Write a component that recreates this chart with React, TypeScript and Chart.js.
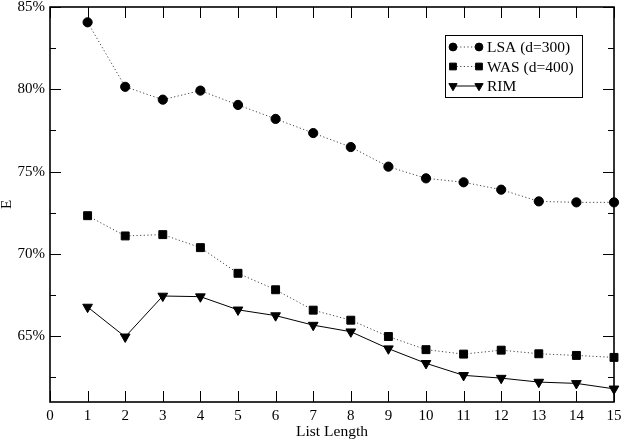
import React, { useEffect, useRef } from 'react';
import { Chart, registerables } from 'chart.js';
import { drawPoint } from 'chart.js/helpers';

Chart.register(...registerables);

const listLengths = [1, 2, 3, 4, 5, 6, 7, 8, 9, 10, 11, 12, 13, 14, 15];
const lsaValues = [84.07, 80.15, 79.37, 79.92, 79.05, 78.2, 77.34, 76.49, 75.3, 74.59, 74.35, 73.9, 73.19, 73.13, 73.13];
const wasValues = [72.32, 71.09, 71.17, 70.38, 68.82, 67.82, 66.58, 65.97, 64.98, 64.18, 63.91, 64.15, 63.93, 63.83, 63.71];
const rimValues = [66.77, 64.96, 67.44, 67.4, 66.6, 66.25, 65.67, 65.27, 64.24, 63.35, 62.62, 62.45, 62.21, 62.13, 61.8];
const xTicks = [0, 1, 2, 3, 4, 5, 6, 7, 8, 9, 10, 11, 12, 13, 14, 15];
const yTicks = [65, 70, 75, 80, 85];
const yMinorTicks = [62.5, 67.5, 72.5, 77.5, 82.5];

const FONT = '"Liberation Serif", "Times New Roman", serif';

// inward ticks + frame, like the grace plot
const frameTicks = {
  id: 'frameTicks',
  beforeDatasetsDraw(chart: any) {
    const { ctx, chartArea, scales } = chart;
    const { left, right, top, bottom } = chartArea;
    ctx.save();
    ctx.strokeStyle = '#000';
    ctx.lineWidth = 1;
    ctx.beginPath();
    xTicks.forEach((v) => {
      const px = Math.round(scales.x.getPixelForValue(v)) + 0.5;
      ctx.moveTo(px, bottom);
      ctx.lineTo(px, bottom - 11);
      ctx.moveTo(px, top);
      ctx.lineTo(px, top + 11);
    });
    yTicks.forEach((v) => {
      const py = Math.round(scales.y.getPixelForValue(v)) + 0.5;
      ctx.moveTo(left, py);
      ctx.lineTo(left + 11, py);
      ctx.moveTo(right, py);
      ctx.lineTo(right - 11, py);
    });
    yMinorTicks.forEach((v) => {
      const py = Math.round(scales.y.getPixelForValue(v)) + 0.5;
      ctx.moveTo(left, py);
      ctx.lineTo(left + 6, py);
      ctx.moveTo(right, py);
      ctx.lineTo(right - 6, py);
    });
    ctx.stroke();
    ctx.lineWidth = 1.6;
    ctx.strokeRect(left, top, right - left, bottom - top);
    ctx.restore();
  },
};

// legend box: marker - line - marker, then label
const boxLegend = {
  id: 'boxLegend',
  afterDraw(chart: any) {
    const { ctx, chartArea } = chart;
    const bx = chartArea.right - 169;
    const by = chartArea.top + 28;
    const bw = 137;
    const bh = 62;
    ctx.save();
    ctx.fillStyle = '#fff';
    ctx.fillRect(bx, by, bw, bh);
    ctx.strokeStyle = '#000';
    ctx.lineWidth = 1;
    ctx.strokeRect(bx + 0.5, by + 0.5, bw, bh);
    chart.data.datasets.forEach((ds: any, i: number) => {
      const y = by + 12 + i * 19.5;
      const x1 = bx + 8;
      const x2 = bx + 34;
      ctx.strokeStyle = ds.borderColor;
      ctx.lineWidth = ds.borderWidth;
      ctx.setLineDash(ds.borderDash || []);
      ctx.beginPath();
      ctx.moveTo(x1, y);
      ctx.lineTo(x2, y);
      ctx.stroke();
      ctx.setLineDash([]);
      ctx.fillStyle = ds.pointBackgroundColor;
      ctx.strokeStyle = ds.pointBorderColor;
      const opts = { pointStyle: ds.pointStyle, radius: ds.pointRadius * 0.85, rotation: ds.pointRotation || 0, borderWidth: 1 };
      drawPoint(ctx, opts, x1, y);
      drawPoint(ctx, opts, x2, y);
      ctx.fillStyle = '#000';
      ctx.font = `15.5px ${FONT}`;
      ctx.textBaseline = 'middle';
      ctx.textAlign = 'left';
      ctx.fillText(ds.label, bx + 42, y + 1);
    });
    ctx.restore();
  },
};

const App = () => {
  const chartRef = useRef<HTMLCanvasElement>(null);
  const chartInstanceRef = useRef<Chart | null>(null);

  useEffect(() => {
    document.body.style.margin = '0';
    const canvas = chartRef.current;
    if (!canvas) return;
    const ctx = canvas.getContext('2d');
    if (!ctx) return;

    chartInstanceRef.current = new Chart(ctx, {
      type: 'line',
      data: {
        datasets: [
          {
            label: 'LSA (d=300)',
            data: listLengths.map((x, i) => ({ x, y: lsaValues[i] })),
            borderColor: '#444',
            borderWidth: 1,
            borderDash: [1.2, 2.4],
            pointStyle: 'circle',
            pointRadius: 4.6,
            pointBackgroundColor: '#000',
            pointBorderColor: '#000',
            clip: false,
          },
          {
            label: 'WAS (d=400)',
            data: listLengths.map((x, i) => ({ x, y: wasValues[i] })),
            borderColor: '#444',
            borderWidth: 1,
            borderDash: [1.2, 2.4],
            pointStyle: 'rect',
            pointRadius: 5.6,
            pointBackgroundColor: '#000',
            pointBorderColor: '#000',
            clip: false,
          },
          {
            label: 'RIM',
            data: listLengths.map((x, i) => ({ x, y: rimValues[i] })),
            borderColor: '#000',
            borderWidth: 1,
            pointStyle: 'triangle',
            pointRotation: 180,
            pointRadius: 5.6,
            pointBackgroundColor: '#000',
            pointBorderColor: '#000',
            clip: false,
          },
        ] as any,
      },
      options: {
        responsive: false,
        animation: false,
        layout: { padding: { top: 7, right: 9, left: 0, bottom: 0 } },
        plugins: {
          legend: { display: false },
          tooltip: { enabled: false },
        },
        elements: { line: { tension: 0 }, point: { borderWidth: 1 } },
        scales: {
          x: {
            type: 'linear',
            min: 0,
            max: 15,
            afterBuildTicks: (scale: any) => {
              scale.ticks = xTicks.map((v) => ({ value: v }));
            },
            afterFit: (scale: any) => {
              scale.height = 39;
              scale.paddingLeft = 0;
              scale.paddingRight = 0;
            },
            grid: { display: false, drawTicks: false },
            border: { display: false },
            ticks: {
              color: '#000',
              padding: 5,
              maxRotation: 0,
              autoSkip: false,
              font: { family: FONT, size: 15 },
            },
            title: {
              display: true,
              text: 'List Length',
              color: '#000',
              padding: 0,
              font: { family: FONT, size: 15.5, lineHeight: 1.2 },
            },
          },
          y: {
            type: 'linear',
            min: 61,
            max: 85,
            afterBuildTicks: (scale: any) => {
              scale.ticks = yTicks.map((v) => ({ value: v }));
            },
            afterFit: (scale: any) => {
              scale.width = 50;
              scale.paddingTop = 0;
              scale.paddingBottom = 0;
            },
            grid: { display: false, drawTicks: false },
            border: { display: false },
            ticks: {
              color: '#000',
              padding: 5,
              autoSkip: false,
              font: { family: FONT, size: 15 },
              callback: (v: any) => `${v}%`,
            },
            title: {
              display: true,
              text: 'E',
              color: '#000',
              padding: 0,
              font: { family: FONT, size: 15, lineHeight: 1 },
            },
          },
        },
      },
      plugins: [frameTicks, boxLegend],
    });

    return () => {
      if (chartInstanceRef.current) {
        chartInstanceRef.current.destroy();
      }
    };
  }, []);

  return (
    <div style={{ width: 623, height: 441, background: '#fff' }}>
      <canvas ref={chartRef} width={623} height={441}></canvas>
    </div>
  );
};

export default App;
